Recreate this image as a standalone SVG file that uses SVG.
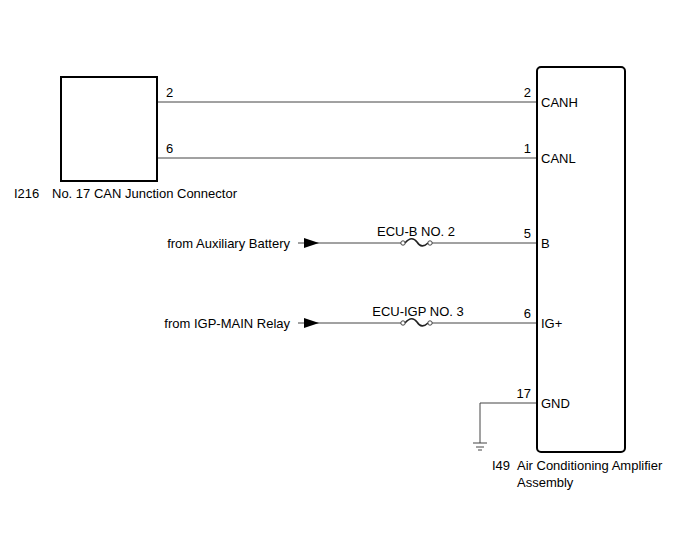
<svg xmlns="http://www.w3.org/2000/svg" width="688" height="560" viewBox="0 0 688 560">
<style>
text{font-family:"Liberation Sans",Arial,sans-serif;font-size:13px;fill:#000}
.w{stroke:#444;stroke-width:1;fill:none}
.f{stroke:#222;stroke-width:1.6;fill:none}
.b{stroke:#000;stroke-width:2;fill:#fff}
.r{text-anchor:end}
</style>
<rect width="688" height="560" fill="#fff"/>
<g id="connectors">
<path class="w" d="M157 102H537M157 158H537"/>
<path class="w" d="M298 243H401M432 243H537"/>
<path class="f" d="M405 243C410 237 414 238 417 242C420 247 424 247 428 243"/>
<circle class="w" cx="403" cy="243" r="2.2"/>
<circle class="w" cx="430" cy="243" r="2.2"/>
<polygon points="304,238 319,243 304,248" fill="#000"/>
<path class="w" d="M298 323H401M432 323H537"/>
<path class="f" d="M405 323C410 317 414 318 417 322C420 327 424 327 428 323"/>
<circle class="w" cx="403" cy="323" r="2.2"/>
<circle class="w" cx="430" cy="323" r="2.2"/>
<polygon points="304,318 319,323 304,328" fill="#000"/>
<path class="w" d="M537 403H480V443"/>
<path class="w" d="M473 443H487M476 447H484M478 450H482"/>
</g>
<g id="I216">
<rect class="b" x="61" y="77" width="96" height="104"/>
<text x="166" y="97">2</text>
<text x="166" y="153">6</text>
<text x="14" y="198">I216</text>
<text x="52" y="198">No. 17 CAN Junction Connector</text>
</g>
<g id="I49">
<rect class="b" x="537" y="67" width="88" height="385" rx="4"/>
<text class="r" x="531" y="97">2</text>
<text class="r" x="531" y="153">1</text>
<text class="r" x="531" y="238">5</text>
<text class="r" x="531" y="318">6</text>
<text class="r" x="531" y="398">17</text>
<text x="541" y="107">CANH</text>
<text x="541" y="163">CANL</text>
<text x="541" y="248">B</text>
<text x="541" y="328">IG+</text>
<text x="541" y="408">GND</text>
<text x="492" y="470">I49</text>
<text x="517" y="470">Air Conditioning Amplifier</text>
<text x="517" y="487">Assembly</text>
</g>
<g id="fuse-ecub">
<text x="416" y="236" text-anchor="middle">ECU-B NO. 2</text>
</g>
<g id="fuse-ecuigp">
<text x="418" y="316" text-anchor="middle">ECU-IGP NO. 3</text>
</g>
<g id="src-battery"><text class="r" x="290" y="248">from Auxiliary Battery</text></g>
<g id="src-igp"><text class="r" x="290" y="328">from IGP-MAIN Relay</text></g>
</svg>
